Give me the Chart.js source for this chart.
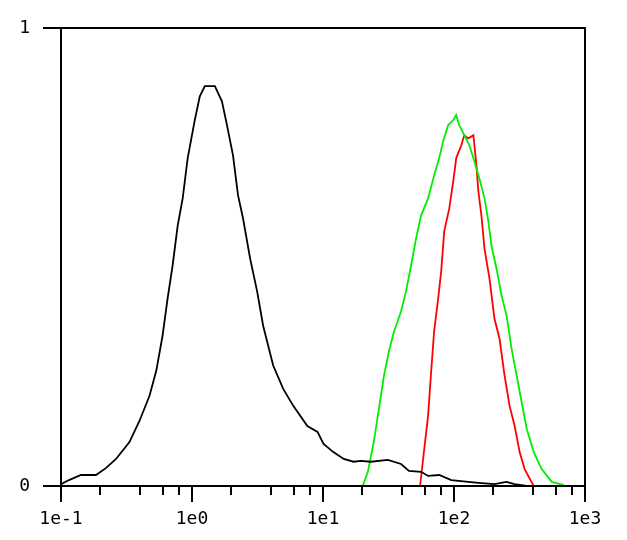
<!DOCTYPE html>
<html>
<head>
<meta charset="utf-8">
<script src="https://cdn.jsdelivr.net/npm/chart.js@4"></script>
<style>
  html, body { margin: 0; padding: 0; background: #fff; }
  #wrap { width: 627px; height: 540px; }
</style>
</head>
<body>
<div id="wrap"><canvas id="chart" width="627" height="540"></canvas></div>
<script>
// Histogram data (fluorescence on log scale, normalised counts)
const blackX = [0.1, 0.115, 0.142, 0.185, 0.22, 0.263, 0.333, 0.397, 0.474, 0.534, 0.596, 0.651, 0.711, 0.778, 0.849, 0.927, 1.05, 1.147, 1.253, 1.495, 1.692, 1.849, 2.056, 2.245, 2.453, 2.776, 3.142, 3.492, 4.166, 4.97, 5.93, 7.6, 9.08, 10.1, 12.0, 14.4, 17.1, 19.4, 23.2, 31.3, 39.4, 45.3, 56.1, 63.4, 77.1, 95.3, 153.5, 203.7, 251.8, 290, 359]
const blackY = [0.004, 0.013, 0.024, 0.024, 0.039, 0.059, 0.096, 0.142, 0.197, 0.252, 0.328, 0.409, 0.481, 0.569, 0.628, 0.716, 0.799, 0.851, 0.873, 0.873, 0.84, 0.788, 0.722, 0.635, 0.584, 0.497, 0.425, 0.35, 0.263, 0.212, 0.175, 0.131, 0.118, 0.092, 0.074, 0.059, 0.053, 0.055, 0.053, 0.057, 0.048, 0.033, 0.031, 0.022, 0.024, 0.013, 0.007, 0.004, 0.009, 0.004, 0]

const greenX = [20.1, 22.0, 24.4, 26.7, 29.2, 31.8, 34.8, 39.4, 43.0, 47.0, 51.3, 56.1, 63.4, 70.5, 77.1, 82.7, 90.3, 98.7, 104, 109.7, 119.9, 131, 143, 156, 171, 183, 193, 211, 230.5, 252, 275, 301, 328, 359, 406, 467, 558, 690]
const greenY = [0, 0.031, 0.096, 0.168, 0.241, 0.293, 0.337, 0.381, 0.425, 0.481, 0.54, 0.591, 0.628, 0.678, 0.716, 0.753, 0.788, 0.799, 0.81, 0.788, 0.766, 0.744, 0.709, 0.672, 0.628, 0.578, 0.525, 0.475, 0.416, 0.372, 0.3, 0.241, 0.184, 0.125, 0.074, 0.037, 0.009, 0.002]

const redX = [55.1, 58.1, 63.4, 66.9, 70.5, 75.7, 79.8, 84.2, 92.0, 98.7, 104, 113.7, 119.9, 128.6, 140.6, 148.3, 153.5, 161.9, 170.8, 186.6, 203.7, 222.5, 243.3, 265.6, 290.4, 317, 346, 406]
const redY = [0, 0.059, 0.153, 0.249, 0.337, 0.409, 0.468, 0.556, 0.606, 0.665, 0.716, 0.744, 0.766, 0.759, 0.766, 0.7, 0.643, 0.591, 0.519, 0.453, 0.365, 0.322, 0.241, 0.175, 0.131, 0.074, 0.037, 0]

// Axis ticks
const decades = [0.1, 1, 10, 100, 1000]
const decadeLabels = ["1e-1", "1e0", "1e1", "1e2", "1e3"]
const minorSteps = [2, 4, 6, 8]
const yTicks = [0, 1]

const FONT = "'DejaVu Sans Mono', monospace"

function toPoints(xs, ys) {
  return xs.map((x, i) => ({ x: x, y: ys[i] }))
}

function series(xs, ys, color) {
  return {
    data: toPoints(xs, ys),
    showLine: true,
    borderColor: color,
    borderWidth: 1.8,
    pointRadius: 0,
    tension: 0,
    fill: false,
  }
}

// frame + tick marks drawn by hand (different lengths for major/minor)
const framePlugin = {
  id: "frame",
  afterDatasetsDraw(chart) {
    const { ctx, chartArea: a, scales } = chart
    ctx.save()
    ctx.strokeStyle = "#000"
    ctx.lineWidth = 2
    ctx.strokeRect(a.left, a.top, a.right - a.left, a.bottom - a.top)

    ctx.beginPath()
    decades.forEach((d, i) => {
      const px = Math.round(scales.x.getPixelForValue(d))
      ctx.moveTo(px, a.bottom)
      ctx.lineTo(px, a.bottom + 16)
      if (i < decades.length - 1) {
        minorSteps.forEach((m) => {
          const mx = Math.round(scales.x.getPixelForValue(d * m))
          ctx.moveTo(mx, a.bottom)
          ctx.lineTo(mx, a.bottom + 9)
        })
      }
    })
    yTicks.forEach((v) => {
      const py = Math.round(scales.y.getPixelForValue(v))
      ctx.moveTo(a.left - 18, py)
      ctx.lineTo(a.left, py)
    })
    ctx.stroke()
    ctx.restore()
  },
}

new Chart(document.getElementById("chart"), {
  type: "scatter",
  data: {
    datasets: [
      series(blackX, blackY, "#000000"),
      series(greenX, greenY, "#00ee00"),
      series(redX, redY, "#ff0000"),
    ],
  },
  options: {
    responsive: false,
    animation: false,
    layout: { padding: { top: 28, right: 42, left: 0, bottom: 0 } },
    plugins: { legend: { display: false }, tooltip: { enabled: false } },
    scales: {
      x: {
        type: "logarithmic",
        min: 0.1,
        max: 1000,
        grid: { display: false, drawTicks: false },
        border: { display: false },
        afterFit: (s) => {
          s.height = 54
          s.paddingLeft = 0
          s.paddingRight = 0
        },
        afterBuildTicks: (s) => {
          const t = []
          decades.forEach((d, i) => {
            t.push({ value: d })
            if (i < decades.length - 1) minorSteps.forEach((m) => t.push({ value: d * m }))
          })
          s.ticks = t
        },
        ticks: {
          autoSkip: false,
          maxRotation: 0,
          padding: 23,
          color: "#000",
          font: { family: FONT, size: 18 },
          callback: (v) => {
            const i = decades.indexOf(v)
            return i >= 0 ? decadeLabels[i] : ""
          },
        },
      },
      y: {
        min: 0,
        max: 1,
        grid: { display: false, drawTicks: false },
        border: { display: false },
        afterFit: (s) => {
          s.width = 61
          s.paddingTop = 0
          s.paddingBottom = 0
        },
        afterBuildTicks: (s) => { s.ticks = yTicks.map((v) => ({ value: v })) },
        ticks: {
          padding: 31,
          color: "#000",
          font: { family: FONT, size: 18 },
        },
      },
    },
  },
  plugins: [framePlugin],
})
</script>
</body>
</html>
